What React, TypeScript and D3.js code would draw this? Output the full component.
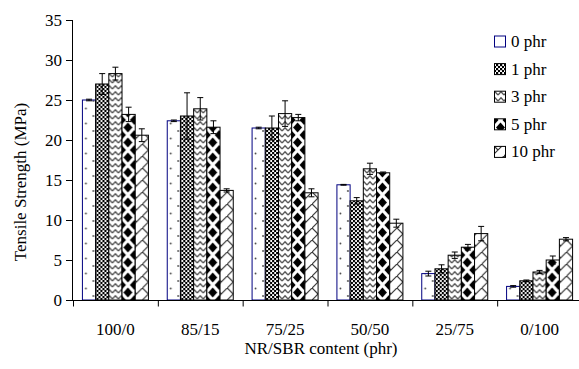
import React from "react";
import * as d3 from "d3";

const categories = ["100/0", "85/15", "75/25", "50/50", "25/75", "0/100"];
const seriesNames = ["0 phr", "1 phr", "3 phr", "5 phr", "10 phr"];
const values0 = [25.0, 22.4, 21.5, 14.4, 3.3, 1.7];
const values1 = [27.0, 23.0, 21.5, 12.4, 3.9, 2.4];
const values3 = [28.3, 23.9, 23.3, 16.4, 5.6, 3.5];
const values5 = [23.2, 21.6, 22.8, 15.9, 6.6, 5.0];
const values10 = [20.6, 13.7, 13.4, 9.6, 8.3, 7.6];
const errors0 = [0.1, 0.1, 0.1, 0.05, 0.3, 0.1];
const errors1 = [1.3, 2.9, 1.5, 0.4, 0.5, 0.1];
const errors3 = [0.8, 1.4, 1.6, 0.7, 0.4, 0.2];
const errors5 = [0.9, 0.8, 0.4, 0.1, 0.35, 0.5];
const errors10 = [0.8, 0.2, 0.5, 0.5, 0.9, 0.2];
const yTicks = [0, 5, 10, 15, 20, 25, 30, 35];

const allValues = [values0, values1, values3, values5, values10];
const allErrors = [errors0, errors1, errors3, errors5, errors10];

const W = 579;
const H = 369;
const FONT = "'Liberation Serif', 'Times New Roman', serif";

export default function App() {
  const x = d3
    .scaleBand<string>()
    .domain(categories)
    .range([73, 582])
    .paddingInner(0.222)
    .paddingOuter(0.111);
  const xs = d3
    .scaleBand<string>()
    .domain(seriesNames)
    .range([0, x.bandwidth()]);
  const y = d3.scaleLinear().domain([0, 35]).range([300, 20]);
  const step = x.step();
  const boundaries = d3.range(categories.length + 1).map((k) => 73 + step * k);

  const strokes = ["#000080", "#000", "#000", "#000", "#000"];

  return (
    <svg
      width={W}
      height={H}
      style={{ position: "absolute", left: 0, top: 0, background: "#fff" }}
      fontFamily={FONT}
    >
      <defs>
        <pattern id="p0" patternUnits="userSpaceOnUse" width={15} height={15}>
          <rect width={15} height={15} fill="#fff" />
          <circle cx={3.5} cy={3.5} r={0.9} fill="#444" />
          <circle cx={11} cy={11} r={0.9} fill="#444" />
        </pattern>
        <pattern id="p1" patternUnits="userSpaceOnUse" width={4} height={4}>
          <rect width={4} height={4} fill="#fff" />
          <rect x={0} y={0} width={2.2} height={2.2} fill="#000" />
          <rect x={2} y={2} width={2.2} height={2.2} fill="#000" />
        </pattern>
        <pattern id="p2" patternUnits="userSpaceOnUse" width={6} height={6}>
          <rect width={6} height={6} fill="#fff" />
          <path d="M0,5 L3,1.8 L6,5" stroke="#555" strokeWidth={1.3} fill="none" />
        </pattern>
        <pattern id="p3" patternUnits="userSpaceOnUse" width={13} height={15}>
          <rect width={13} height={15} fill="#fff" />
          <path d="M6.5,2.5 L11,7.5 L6.5,12.5 L2,7.5 Z" fill="#000" />
          <path d="M0,-5 L4.5,0 L0,5 L-4.5,0 Z" fill="#000" />
          <path d="M13,-5 L17.5,0 L13,5 L8.5,0 Z" fill="#000" />
          <path d="M0,10 L4.5,15 L0,20 L-4.5,15 Z" fill="#000" />
          <path d="M13,10 L17.5,15 L13,20 L8.5,15 Z" fill="#000" />
        </pattern>
        <pattern id="p4" patternUnits="userSpaceOnUse" width={12} height={12}>
          <rect width={12} height={12} fill="#fff" />
          <path d="M-1,13 L13,-1 M0,0 L6,6" stroke="#333" strokeWidth={1.2} fill="none" />
        </pattern>
      </defs>

      {categories.map((c, ci) => (
        <g key={c} transform={`translate(${x(c)},0)`}>
          {seriesNames.map((s, si) => {
            const v = allValues[si][ci];
            const e = allErrors[si][ci];
            const bx = xs(s)!;
            const bw = xs.bandwidth();
            const cx = bx + bw / 2;
            return (
              <g key={s}>
                <rect
                  x={bx}
                  y={y(v)}
                  width={bw}
                  height={y(0) - y(v)}
                  fill={`url(#p${si})`}
                  stroke={strokes[si]}
                  strokeWidth={1}
                />
                <line x1={cx} x2={cx} y1={y(v + e)} y2={y(v - e)} stroke="#000" strokeWidth={1} />
                <line x1={cx - 3} x2={cx + 3} y1={y(v + e)} y2={y(v + e)} stroke="#000" strokeWidth={1} />
                <line x1={cx - 3} x2={cx + 3} y1={y(v - e)} y2={y(v - e)} stroke="#000" strokeWidth={1} />
              </g>
            );
          })}
        </g>
      ))}

      {/* Y axis */}
      <line x1={72.5} x2={72.5} y1={y(35)} y2={y(0)} stroke="#000" />
      {yTicks.map((t) => (
        <g key={t}>
          <line x1={66} x2={72.5} y1={y(t) + 0.5} y2={y(t) + 0.5} stroke="#000" />
          <text x={62} y={y(t) + 6} textAnchor="end" fontSize={17} fill="#000">
            {t}
          </text>
        </g>
      ))}
      <text
        transform={`translate(26,182) rotate(-90)`}
        textAnchor="middle"
        fontSize={17}
        fill="#000"
      >
        Tensile Strength (MPa)
      </text>

      {/* X axis */}
      <line x1={72} x2={582} y1={300.5} y2={300.5} stroke="#000" />
      {boundaries.map((b, i) => (
        <line key={i} x1={b + 0.5} x2={b + 0.5} y1={300.5} y2={306.5} stroke="#000" />
      ))}
      {categories.map((c) => (
        <text
          key={c}
          x={x(c)! + x.bandwidth() / 2}
          y={335}
          textAnchor="middle"
          fontSize={17}
          fill="#000"
        >
          {c}
        </text>
      ))}
      <text x={321} y={354} textAnchor="middle" fontSize={17} fill="#000">
        NR/SBR content (phr)
      </text>

      {/* Legend */}
      {seriesNames.map((s, si) => {
        const ly = 47 + si * 27.6;
        return (
          <g key={s}>
            <rect
              x={494.5}
              y={ly - 11}
              width={11}
              height={11}
              fill={`url(#p${si})`}
              stroke={strokes[si]}
              strokeWidth={1}
            />
            <text x={511} y={ly} fontSize={17} fill="#000">
              {s}
            </text>
          </g>
        );
      })}
    </svg>
  );
}
